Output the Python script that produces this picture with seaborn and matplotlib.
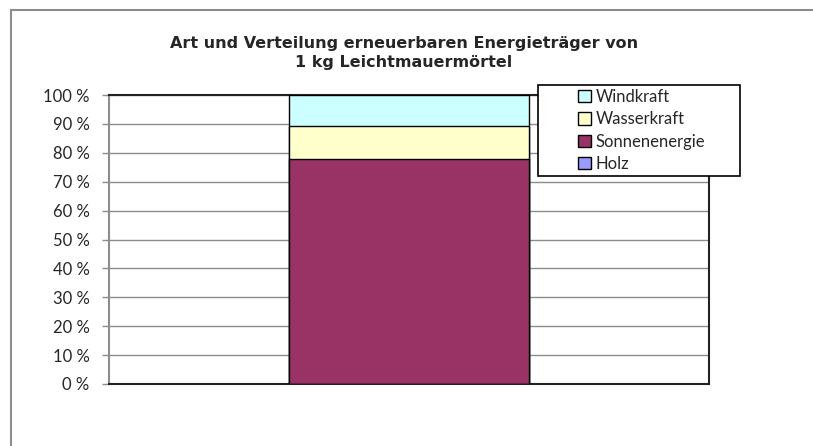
import matplotlib
matplotlib.use("Agg")
import matplotlib.pyplot as plt
import seaborn as sns
import pandas as pd
from matplotlib.patches import Patch, Rectangle
from matplotlib.lines import Line2D
from matplotlib.ticker import FuncFormatter

# data (percent share of each source)
category = ["1 kg Leichtmauermörtel"]
sources = ["Holz", "Sonnenenergie", "Wasserkraft", "Windkraft"]
shares = [0.1, 77.7, 11.6, 10.6]
colors = ["#9999FF", "#993366", "#FFFFCC", "#CCFFFF"]

title = "Art und Verteilung erneuerbaren Energieträger von\n1 kg Leichtmauermörtel"

sns.set_style("white")
plt.rcParams["font.family"] = ["Lato", "DejaVu Sans"]

fig = plt.figure(figsize=(8.13, 4.46), dpi=100)
ax = fig.add_axes([109 / 813, 1 - 384 / 446, 600 / 813, 289 / 446])

# stacked bars: draw running totals from top down
totals = pd.Series(shares).cumsum().tolist()
for name, total, col in reversed(list(zip(sources, totals, colors))):
    df = pd.DataFrame({"cat": category, "val": [total]})
    sns.barplot(data=df, x="cat", y="val", color=col, saturation=1,
                width=0.4, edgecolor="black", linewidth=1.0, ax=ax, zorder=3)

ax.set_xlim(-0.5, 0.5)
ax.set_ylim(0, 100)
ax.set_yticks(range(0, 101, 10))
ax.yaxis.set_major_formatter(FuncFormatter(lambda v, p: f"{int(v)} %"))
ax.set_xticks([])
ax.set_xlabel("")
ax.set_ylabel("")
ax.grid(axis="y", color="#8c8c8c", linewidth=1.0, zorder=0)
ax.tick_params(axis="y", left=True, length=5, width=1, color="#8c8c8c",
               labelsize=12, pad=9)

for s in ["top", "right", "bottom"]:
    ax.spines[s].set_visible(True)
    ax.spines[s].set_color("#222222")
    ax.spines[s].set_linewidth(1.5)
ax.spines["left"].set_color("#8c8c8c")
ax.spines["left"].set_linewidth(1.5)

fig.text(0.497, 1 - 53 / 446, title, ha="center", va="center",
         fontsize=11.5, fontweight="bold", family=["DejaVu Sans"],
         linespacing=1.4)

# legend box (drawn separately so its size matches)
fig.add_artist(Rectangle((538 / 813, 1 - 176 / 446), 202 / 813, 91 / 446,
                         transform=fig.transFigure, facecolor="white",
                         edgecolor="black", linewidth=1.2, zorder=9))
handles = [Patch(facecolor=c, edgecolor="black", label=n)
           for n, c in zip(sources, colors)][::-1]
leg = fig.legend(handles=handles, loc="upper left",
                 bbox_to_anchor=(578 / 813, 1 - 89 / 446),
                 frameon=False, fontsize=12,
                 handlelength=0.75, handleheight=0.75, handletextpad=0.3,
                 labelspacing=0.38, borderpad=0.0, borderaxespad=0)
leg.set_zorder(10)

# outer chart border
fig.add_artist(Line2D([11 / 813, 11 / 813], [0, 1 - 10 / 446],
                      transform=fig.transFigure, color="#8c8c8c", linewidth=1.5))
fig.add_artist(Line2D([11 / 813, 1], [1 - 10 / 446, 1 - 10 / 446],
                      transform=fig.transFigure, color="#8c8c8c", linewidth=1.5))

fig.savefig("out.png", dpi=100)
plt.close(fig)
